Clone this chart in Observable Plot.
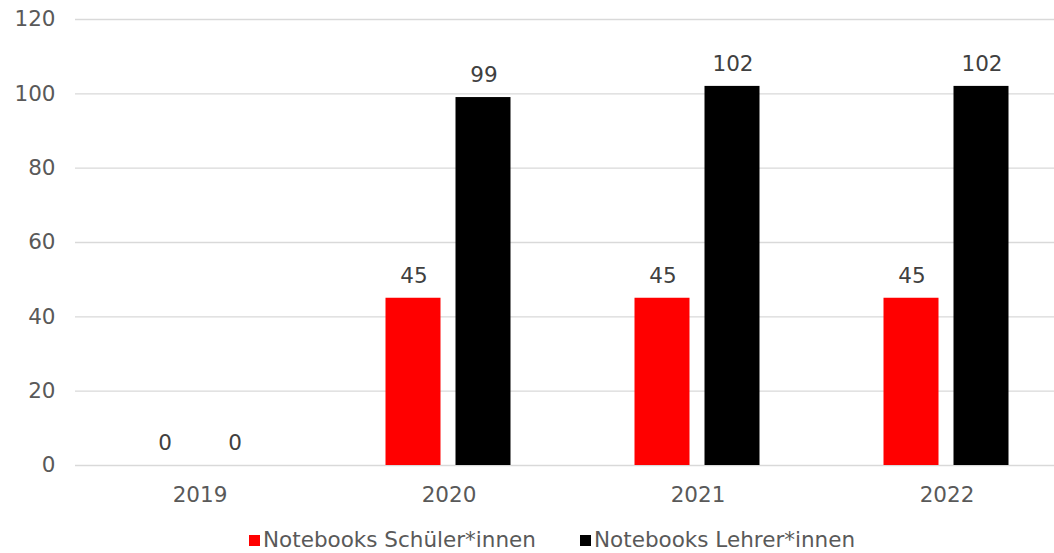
<!DOCTYPE html>
<html><head><meta charset="utf-8">
<script src="https://cdn.jsdelivr.net/npm/d3@7"></script>
<script src="https://cdn.jsdelivr.net/npm/@observablehq/plot@0.6"></script>
<style>
html,body{margin:0;padding:0;background:#fff;overflow:hidden;}
body{width:1054px;height:553px;position:relative;font-family:"DejaVu Sans",Verdana,sans-serif;}
#chart{position:absolute;left:0;top:0;}
#legend{position:absolute;top:526px;left:249px;height:28px;line-height:28px;font-size:21.5px;color:#595959;white-space:nowrap;}
#legend .item{position:absolute;top:0;display:flex;align-items:center;}
#legend .sw{width:11px;height:11px;margin-right:3px;}
</style></head><body><div id="chart"></div><div id="legend"></div>
<script>
const years = ["2019","2020","2021","2022"];
const seriesNames = ["Notebooks Schüler*innen","Notebooks Lehrer*innen"];
const schueler = [0,45,45,45];
const lehrer = [0,99,102,102];
const colors = ["#ff0000","#000000"];
const yTicks = [0,20,40,60,80,100,120];

const data = years.flatMap((y,i)=>[
  {year:y, series:seriesNames[0], value:schueler[i]},
  {year:y, series:seriesNames[1], value:lehrer[i]}
]);

const chart = Plot.plot({
  width:1054, height:515,
  marginLeft:74, marginRight:-18, marginTop:19, marginBottom:50,
  style:{fontFamily:'"DejaVu Sans", Verdana, sans-serif', fontSize:"21.5px", color:"#595959", background:"#fff", overflow:"visible"},
  fx:{domain:years, padding:0, label:null, axis:"bottom", tickSize:0, tickPadding:21},
  x:{domain:seriesNames, axis:null, paddingInner:15/71, paddingOuter:0.862},
  y:{domain:[0,120], ticks:yTicks, tickSize:0, tickPadding:20, label:null},
  color:{domain:seriesNames, range:colors},
  marks:[
    Plot.ruleY(yTicks, {stroke:"#d9d9d9", strokeWidth:1.3}),
    Plot.barY(data, {fx:"year", x:"series", y:"value", fill:"series", insetLeft:-0.5, insetRight:0.5}),
    Plot.text(data, {fx:"year", x:"series", y:"value", text:d=>String(d.value), dy:-22, fill:"#404040"})
  ]
});
document.getElementById("chart").appendChild(chart);

const legend = document.getElementById("legend");
const legendOffsets = [0, 331];
seriesNames.forEach((s,i)=>{
  const it = document.createElement("div"); it.className="item"; it.style.left = legendOffsets[i] + "px";
  const sw = document.createElement("span"); sw.className="sw"; sw.style.background=colors[i];
  const t = document.createElement("span"); t.textContent=s;
  it.appendChild(sw); it.appendChild(t); legend.appendChild(it);
});
</script>
</body></html>
